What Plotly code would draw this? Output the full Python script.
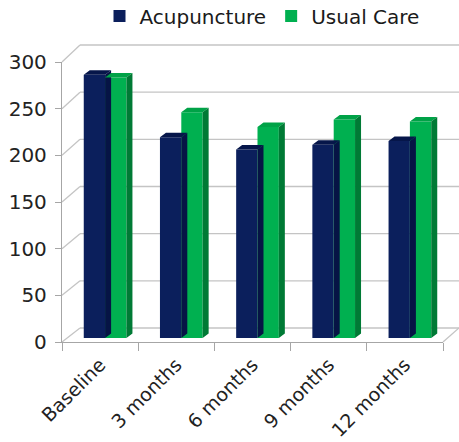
import plotly.graph_objects as go

categories = ["Baseline", "3 months", "6 months", "9 months", "12 months"]
acupuncture = [282, 215, 202, 207, 211]
usual_care = [279, 242, 226, 234, 232]
y_ticks = [0, 50, 100, 150, 200, 250, 300]

W, H = 459, 442
ML, MR, MT, MB = 62, 0, 45, 100
PW, PH = W - ML - MR, H - MT - MB

FRONT_W = 381          # px width of front x axis
FRONT_H = 280          # px height of 0..300 on the front axis
BACK_DX, BACK_DY = 18, 14
BACK_H = PH - BACK_DY
BAR_DX, BAR_DY = 5, 4
DEPTH_X, DEPTH_Y = 6, 4.5

navy = "#0b1f5c"
navy_top = "#06164a"
navy_side = "#061445"
green = "#00b050"
green_top = "#00a247"
green_side = "#007a35"
grid = "#c4c4c4"
axis_c = "#a6a6a6"

fig = go.Figure()

# invisible anchor for the front category axis
fig.add_trace(go.Scatter(x=categories, y=[0] * len(categories), xaxis="x", yaxis="y",
                         mode="markers", marker=dict(opacity=0), showlegend=False, hoverinfo="skip"))

xs = list(range(len(categories)))
bw = 0.28
ux = DEPTH_X * 5 / FRONT_W
uy = DEPTH_Y * 300 / FRONT_H


def faces(values, left_off):
    top_x, top_y, side_x, side_y = [], [], [], []
    for x, v in zip(xs, values):
        l, r = x + left_off, x + left_off + bw
        top_x += [l, l + ux, r + ux, r, l, None]
        top_y += [v, v + uy, v + uy, v, v, None]
        side_x += [r, r + ux, r + ux, r, r, None]
        side_y += [0, uy, v + uy, v, 0, None]
    return top_x, top_y, side_x, side_y


for name, vals, off, c_front, c_top, c_side in [
    ("Acupuncture", acupuncture, -bw, navy, navy_top, navy_side),
    ("Usual Care", usual_care, 0.0, green, green_top, green_side),
]:
    fig.add_trace(go.Bar(x=xs, y=vals, offset=off, width=bw, name=name,
                         marker=dict(color=c_front, line=dict(width=0)),
                         xaxis="x3", yaxis="y3"))
    tx, ty, sx, sy = faces(vals, off)
    fig.add_trace(go.Scatter(x=tx, y=ty, fill="toself", fillcolor=c_top, mode="lines",
                             line=dict(width=0, color=c_top), showlegend=False,
                             hoverinfo="skip", xaxis="x3", yaxis="y3"))
    fig.add_trace(go.Scatter(x=sx, y=sy, fill="toself", fillcolor=c_side, mode="lines",
                             line=dict(width=0, color=c_side), showlegend=False,
                             hoverinfo="skip", xaxis="x3", yaxis="y3"))

front_xdom = [0, FRONT_W / PW]
front_ydom = [0, FRONT_H / PH]
bar_xdom = [BAR_DX / PW, (FRONT_W + BAR_DX) / PW]
bar_ydom = [BAR_DY / PH, (FRONT_H + BAR_DY) / PH]

font = "DejaVu Sans"

# 3D frame: back-wall gridlines, left-wall diagonals, floor edge
shapes = []
gl = dict(color=grid, width=1.3)
for v in y_ticks:
    yf = v * FRONT_H / 300 / PH
    yb = (BACK_DY + v * BACK_H / 300) / PH
    shapes.append(dict(type="line", xref="paper", yref="paper", x0=BACK_DX / PW, x1=1,
                       y0=yb, y1=yb, line=gl, layer="below"))
    shapes.append(dict(type="line", xref="paper", yref="paper", x0=0, x1=BACK_DX / PW,
                       y0=yf, y1=yb, line=gl, layer="below"))
shapes.append(dict(type="line", xref="paper", yref="paper", x0=FRONT_W / PW,
                   x1=min(1, (FRONT_W + BACK_DX) / PW), y0=0, y1=BACK_DY / PH, line=gl, layer="below"))

fig.update_layout(
    width=W, height=H,
    margin=dict(l=ML, r=MR, t=MT, b=MB, autoexpand=False),
    paper_bgcolor="white", plot_bgcolor="rgba(0,0,0,0)",
    barmode="overlay",
    showlegend=True,
    legend=dict(orientation="h", x=(262 - ML) / PW, xanchor="center", y=1 + (MT - 16) / PH,
                yanchor="middle",
                font=dict(family=font, size=20, color="#1a1a1a"), itemwidth=30,
                traceorder="normal", bgcolor="rgba(0,0,0,0)"),
    xaxis=dict(domain=front_xdom, anchor="y", type="category", range=[-0.5, 4.5],
               showgrid=False, showline=True, linecolor=axis_c, linewidth=1.3,
               ticks="outside", tickson="boundaries", ticklen=8, tickcolor=axis_c,
               tickangle=-45, tickfont=dict(family=font, size=19, color="#222"),
               ticklabelstandoff=3,
               zeroline=False, fixedrange=True, automargin=False),
    yaxis=dict(domain=front_ydom, anchor="x", range=[0, 300], tickvals=y_ticks,
               showgrid=False, showline=True, linecolor=axis_c, linewidth=1.3,
               ticks="outside", ticklen=6, tickcolor=axis_c,
               tickfont=dict(family=font, size=20, color="#222"), ticklabelstandoff=4,
               zeroline=False, automargin=False),
    xaxis3=dict(domain=bar_xdom, anchor="y3", range=[-0.5, 4.5], visible=False),
    yaxis3=dict(domain=bar_ydom, anchor="x3", range=[0, 300], visible=False),
    shapes=shapes,
)

fig.write_html("out.html", config={"displayModeBar": False},
               post_script="document.body.style.margin='0px';")
